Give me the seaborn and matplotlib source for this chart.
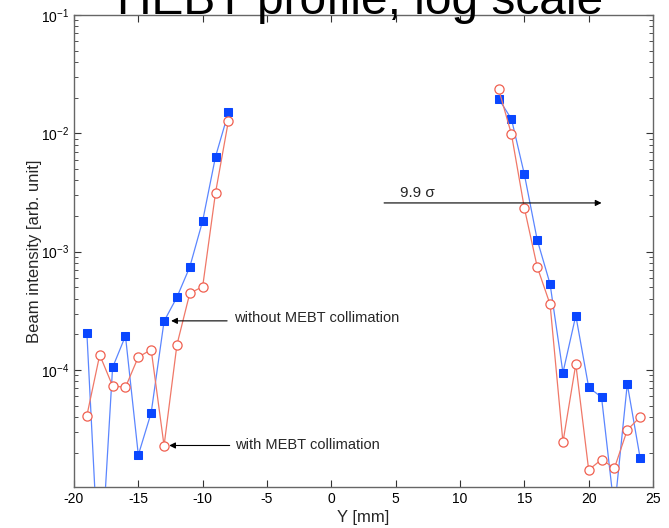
import numpy as np
import pandas as pd
import seaborn as sns
import matplotlib.pyplot as plt
from matplotlib.ticker import LogLocator, NullFormatter

# --- data ---
y_left = [-19, -18, -17, -16, -15, -14, -13, -12, -11, -10, -9, -8]
y_right = [13, 14, 15, 16, 17, 18, 19, 20, 21, 22, 23, 24]

# without MEBT collimation (blue squares)
blue_left = [2.07e-4, 1.5e-6, 1.05e-4, 1.94e-4, 1.91e-5, 4.36e-5,
             2.58e-4, 4.12e-4, 7.43e-4, 1.82e-3, 6.35e-3, 1.50e-2]
blue_right = [1.96e-2, 1.32e-2, 4.51e-3, 1.26e-3, 5.33e-4, 9.49e-5,
              2.88e-4, 7.14e-5, 5.88e-5, 6.5e-6, 7.61e-5, 1.80e-5]

# with MEBT collimation (red open circles)
red_left = [4.11e-5, 1.34e-4, 7.32e-5, 7.14e-5, 1.29e-4, 1.48e-4,
            2.29e-5, 1.63e-4, 4.45e-4, 5.06e-4, 3.15e-3, 1.27e-2]
red_right = [2.37e-2, 9.8e-3, 2.34e-3, 7.43e-4, 3.59e-4, 2.45e-5,
             1.12e-4, 1.43e-5, 1.75e-5, 1.48e-5, 3.11e-5, 4.01e-5]

x_ticks = [-20, -15, -10, -5, 0, 5, 10, 15, 20, 25]


def make_df(left, right):
    return pd.DataFrame({
        "Y": y_left + y_right,
        "I": left + right,
        "side": ["L"] * len(left) + ["R"] * len(right),
    })


df_blue = make_df(blue_left, blue_right)
df_red = make_df(red_left, red_right)

sns.set_style("ticks")
plt.rcParams['font.family'] = ['Liberation Sans', 'DejaVu Sans']
plt.rcParams['mathtext.fontset'] = 'custom'
plt.rcParams['mathtext.rm'] = 'Liberation Sans'

fig = plt.figure(figsize=(6.69, 5.28), dpi=100)
ax = fig.add_axes([0.1106, 0.0777, 0.8655, 0.8939])

sns.lineplot(data=df_blue, x="Y", y="I", units="side", estimator=None,
             sort=False, ax=ax, color="#5b86ff", lw=0.9, marker="s",
             markersize=5.2, markerfacecolor="#0a47ff",
             markeredgecolor="#0a47ff", zorder=3)
sns.lineplot(data=df_red, x="Y", y="I", units="side", estimator=None,
             sort=False, ax=ax, color="#f07868", lw=0.9, marker="o",
             markersize=6.6, markerfacecolor="white",
             markeredgecolor="#f06050", markeredgewidth=0.9, zorder=3)

ax.set_yscale("log")
ax.set_xlim(-20, 25)
ax.set_ylim(1.026e-5, 1e-1)
ax.set_xticks(x_ticks)
ax.set_xticklabels([str(t) for t in x_ticks])
ax.yaxis.set_major_locator(LogLocator(base=10, numticks=10))
ax.yaxis.set_minor_locator(LogLocator(base=10, subs=np.arange(2, 10), numticks=20))
ax.yaxis.set_minor_formatter(NullFormatter())

ax.tick_params(axis="both", which="major", direction="in", length=5,
               width=0.8, top=True, right=True, labelsize=10,
               colors="#333333", labelcolor="black")
ax.tick_params(axis="y", which="minor", direction="in", length=3,
               width=0.6, right=True, colors="#333333")
for s in ax.spines.values():
    s.set_color("#666666")
    s.set_linewidth(1.0)

ax.set_xlabel("Y [mm]", fontsize=12, labelpad=3)
ax.set_ylabel("Beam intensity [arb. unit]", fontsize=12, labelpad=-1)

# annotations
arrow = dict(arrowstyle="-|>", color="black", lw=0.8,
             mutation_scale=9, shrinkA=0, shrinkB=0)
ax.annotate("", xy=(-12.45, 2.6e-4), xytext=(-8.1, 2.6e-4), arrowprops=arrow)
ax.text(-7.55, 2.75e-4, "without MEBT collimation", fontsize=10.5,
        va="center", ha="left")
ax.annotate("", xy=(-12.6, 2.3e-5), xytext=(-7.9, 2.3e-5), arrowprops=arrow)
ax.text(-7.45, 2.3e-5, "with MEBT collimation", fontsize=10.5,
        va="center", ha="left")
ax.annotate("", xy=(21.0, 2.58e-3), xytext=(4.1, 2.58e-3), arrowprops=arrow)
ax.text(5.3, 2.75e-3, "9.9 σ", fontsize=11, va="bottom", ha="left")

fig.text(0.539, 1.0 - 14 / 528, "HEBT profile, log scale", fontsize=34.5,
         ha="center", va="baseline", color="black")

fig.savefig("out.png", dpi=100)
